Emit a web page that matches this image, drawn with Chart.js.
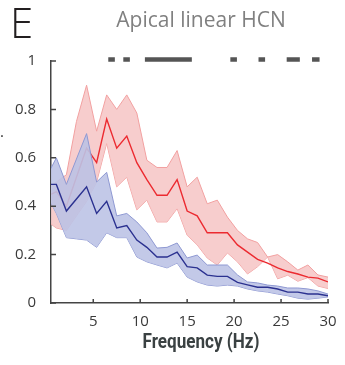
<!DOCTYPE html>
<html>
<head>
<meta charset="utf-8">
<script src="https://cdn.jsdelivr.net/npm/chart.js@4/dist/chart.umd.min.js"></script>
<style>
  html, body { margin: 0; padding: 0; background: #fff; }
  #wrap { width: 345px; height: 365px; position: relative; }
</style>
</head>
<body>
<div id="wrap"><canvas id="psd"></canvas></div>
<script>
// frequency bins (Hz)
const freqs = [0, 1.07, 2.14, 3.21, 4.29, 5.36, 6.43, 7.50, 8.57, 9.64, 10.71, 11.79, 12.86, 13.93, 15.00,
  16.07, 17.14, 18.21, 19.29, 20.36, 21.43, 22.50, 23.57, 24.64, 25.71, 26.79, 27.86, 28.93, 30.00];

// red condition: mean and band
const redMean = [0.44, 0.46, 0.40, 0.52, 0.64, 0.58, 0.76, 0.64, 0.69, 0.58, 0.51, 0.445, 0.445, 0.51, 0.38,
  0.36, 0.29, 0.29, 0.29, 0.24, 0.21, 0.18, 0.165, 0.145, 0.13, 0.12, 0.107, 0.103, 0.087];
const redHigh = [0.47, 0.50, 0.53, 0.75, 0.90, 0.71, 0.86, 0.80, 0.86, 0.785, 0.59, 0.56, 0.56, 0.63, 0.48,
  0.52, 0.41, 0.425, 0.355, 0.30, 0.265, 0.25, 0.19, 0.20, 0.17, 0.136, 0.157, 0.116, 0.107];
const redLow = [0.34, 0.31, 0.30, 0.36, 0.42, 0.50, 0.66, 0.48, 0.52, 0.385, 0.425, 0.335, 0.335, 0.39, 0.28,
  0.24, 0.186, 0.157, 0.207, 0.17, 0.12, 0.15, 0.19, 0.10, 0.115, 0.09, 0.105, 0.07, 0.06];

// blue condition: mean and band
const blueMean = [0.49, 0.49, 0.38, 0.43, 0.48, 0.37, 0.42, 0.31, 0.32, 0.26, 0.23, 0.19, 0.19, 0.21, 0.15,
  0.145, 0.115, 0.11, 0.11, 0.085, 0.075, 0.065, 0.065, 0.058, 0.045, 0.045, 0.037, 0.037, 0.03];
const blueHigh = [0.52, 0.60, 0.49, 0.595, 0.70, 0.50, 0.54, 0.36, 0.37, 0.335, 0.29, 0.227, 0.23, 0.248, 0.186,
  0.198, 0.157, 0.157, 0.157, 0.116, 0.087, 0.083, 0.074, 0.07, 0.062, 0.062, 0.058, 0.05, 0.037];
const blueLow = [0.45, 0.37, 0.27, 0.265, 0.26, 0.23, 0.29, 0.27, 0.27, 0.19, 0.17, 0.157, 0.145, 0.165, 0.107,
  0.087, 0.074, 0.07, 0.074, 0.07, 0.058, 0.05, 0.045, 0.037, 0.03, 0.02, 0.016, 0.02, 0.025];

// significance bars (Hz ranges) drawn just above y = 1
const sigStart = [6.6, 8.2, 10.5, 19.6, 22.6, 25.6, 28.3];
const sigEnd   = [7.3, 8.9, 15.5, 20.3, 23.3, 27.0, 29.1];
const sigLevel = 1.006;

const xTicks = [5, 10, 15, 20, 25, 30];
const yTicks = [0, 0.2, 0.4, 0.6, 0.8, 1];

const AXIS = "#444";
const TICK_FONT = { family: "'Open Sans', 'Noto Sans', sans-serif", size: 15 };

const pts = arr => freqs.map((f, i) => ({ x: f, y: arr[i] }));

const sigPts = [];
sigStart.forEach((s, i) => {
  sigPts.push({ x: s, y: sigLevel }, { x: sigEnd[i], y: sigLevel }, { x: sigEnd[i], y: null });
});

const inwardTicks = {
  id: "inwardTicks",
  afterDraw(chart) {
    const { ctx, scales: { x, y } } = chart;
    ctx.save();
    ctx.strokeStyle = AXIS;
    ctx.lineWidth = 1.5;
    ctx.beginPath();
    x.ticks.forEach(t => {
      const px = x.getPixelForValue(t.value);
      ctx.moveTo(px, x.top); ctx.lineTo(px, x.top - 4);
    });
    y.ticks.forEach(t => {
      const py = y.getPixelForValue(t.value);
      ctx.moveTo(y.right, py); ctx.lineTo(y.right + 5, py);
    });
    ctx.stroke();
    ctx.restore();
  }
};

// squeeze text to a given width (the original uses a condensed bold face)
function narrowText(ctx, text, cx, y, width) {
  const w = ctx.measureText(text).width;
  const k = Math.min(1, width / w);
  ctx.save();
  ctx.translate(cx, y);
  ctx.scale(k, 1);
  ctx.fillText(text, 0, 0);
  ctx.restore();
}

const labels = {
  id: "labels",
  afterDraw(chart) {
    const ctx = chart.ctx;
    ctx.save();
    ctx.textAlign = "left";
    ctx.textBaseline = "alphabetic";
    ctx.fillStyle = "#231f20";
    ctx.font = "300 42px 'Open Sans', sans-serif";
    ctx.fillText("E", 10, 38);

    ctx.textAlign = "center";
    ctx.fillStyle = "#808080";
    ctx.font = "21px 'Open Sans', sans-serif";
    ctx.fillText("Apical linear HCN", 201, 27);

    ctx.fillStyle = "#3a4142";
    ctx.font = "bold 20px Roboto, 'Liberation Sans', sans-serif";
    narrowText(ctx, "Frequency (Hz)", 201, 348, 117);

    ctx.fillStyle = "#333";
    ctx.font = "15px 'Open Sans', sans-serif";
    ctx.fillText(".", 2, 137);
    ctx.restore();
  }
};

const edge = (color) => ({ borderColor: color, borderWidth: 1, pointRadius: 0, tension: 0 });

new Chart(document.getElementById("psd"), {
  type: "line",
  data: {
    datasets: [
      { label: "sig", data: sigPts, borderColor: "#555", borderWidth: 4.5, pointRadius: 0,
        spanGaps: false, clip: false, fill: false, order: 0, borderCapStyle: "butt" },
      { label: "blue mean", data: pts(blueMean), borderColor: "#2b3190", borderWidth: 1.4,
        pointRadius: 0, fill: false, order: 1 },
      { label: "blue high", data: pts(blueHigh), ...edge("#8e98d2"),
        fill: { target: 3 }, backgroundColor: "rgba(188,195,230,0.9)", order: 2 },
      { label: "blue low", data: pts(blueLow), ...edge("#8e98d2"), fill: false, order: 3 },
      { label: "red mean", data: pts(redMean), borderColor: "#ec2a30", borderWidth: 1.4,
        pointRadius: 0, fill: false, order: 4 },
      { label: "red high", data: pts(redHigh), ...edge("#f2a0a0"),
        fill: { target: 6 }, backgroundColor: "rgba(246,196,196,0.85)", order: 5 },
      { label: "red low", data: pts(redLow), ...edge("#f2a0a0"), fill: false, order: 6 }
    ]
  },
  options: {
    responsive: true,
    maintainAspectRatio: false,
    animation: false,
    layout: { padding: { top: 61, right: 17, left: 0, bottom: 0 } },
    plugins: { legend: { display: false }, tooltip: { enabled: false } },
    scales: {
      x: {
        type: "linear", min: 0.5, max: 30,
        afterBuildTicks: s => { s.ticks = xTicks.map(v => ({ value: v })); },
        afterFit: s => { s.height = 62; },
        grid: { display: false },
        border: { display: true, color: AXIS, width: 1.5 },
        ticks: { font: TICK_FONT, color: "#3a3a3a", padding: 2, maxRotation: 0,
                 callback: v => String(v) }
      },
      y: {
        min: 0, max: 1,
        afterBuildTicks: s => { s.ticks = yTicks.map(v => ({ value: v })); },
        afterFit: s => { s.width = 51; },
        grid: { display: false },
        border: { display: true, color: AXIS, width: 1.5 },
        ticks: { font: TICK_FONT, color: "#3a3a3a", padding: 7,
                 callback: v => String(+v.toFixed(1)) }
      }
    }
  },
  plugins: [inwardTicks, labels]
});
</script>
</body>
</html>
